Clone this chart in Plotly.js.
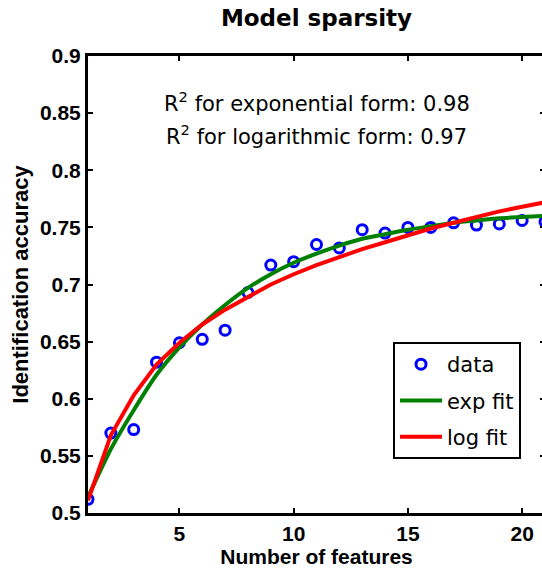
<!DOCTYPE html>
<html>
<head>
<meta charset="utf-8">
<script src="https://cdn.plot.ly/plotly-3.0.1.min.js"></script>
<style>
html,body{margin:0;padding:0;overflow:hidden;background:#fff;width:542px;height:568px;}
#chart{width:560px;height:568px;}
</style>
</head>
<body>
<div id="chart"></div>
<script>
const features = [1,2,3,4,5,6,7,8,9,10,11,12,13,14,15,16,17,18,19,20,21];
const accuracy = [0.512,0.570,0.573,0.632,0.649,0.652,0.660,0.693,0.717,0.720,0.735,0.732,0.748,0.745,0.750,0.750,0.754,0.752,0.753,0.756,0.755];
const expFit = [0.514,0.556,0.590,0.621,0.645,0.665,0.682,0.697,0.709,0.719,0.727,0.734,0.740,0.744,0.748,0.751,0.754,0.756,0.758,0.759,0.760];
const logFit = [0.511,0.568,0.603,0.630,0.649,0.665,0.678,0.689,0.700,0.709,0.717,0.724,0.731,0.737,0.743,0.749,0.754,0.759,0.764,0.768,0.772];
const xTicks = [5,10,15,20];
const yTicks = [0.5,0.55,0.6,0.65,0.7,0.75,0.8,0.85,0.9];
const yTickText = ["0.5","0.55","0.6","0.65","0.7","0.75","0.8","0.85","0.9"];
const seriesNames = ["data","exp fit","log fit"];
const annotationLines = ["R<sup>2</sup> for exponential form: 0.98","R<sup>2</sup> for logarithmic form: 0.97"];
const chartTitle = "Model sparsity";
const xLabel = "Number of features";
const yLabel = "Identification accuracy";

const tickFont = {family:"Liberation Sans, Arial, sans-serif", size:21, color:"#000", weight:"bold"};
const traces = [
  {x:features, y:accuracy, name:seriesNames[0], type:"scatter", mode:"markers", legendgroup:"a",
   marker:{symbol:"circle-open", size:10, color:"#0000ff", line:{width:3, color:"#0000ff"}}},
  {x:features, y:expFit, name:seriesNames[1], type:"scatter", mode:"lines", legendgroup:"b",
   line:{color:"#008000", width:4, shape:"spline", smoothing:0.6}},
  {x:features, y:logFit, name:seriesNames[2], type:"scatter", mode:"lines", legendgroup:"c",
   line:{color:"#ff0000", width:4}}
];
const layout = {
  width:560, height:568,
  margin:{l:88, r:15, t:56, b:55},
  paper_bgcolor:"#fff", plot_bgcolor:"#fff",
  title:{text:chartTitle, x:0.5, xref:"paper", y:1-18/568, yref:"container", yanchor:"middle",
         font:{family:"DejaVu Sans, sans-serif", size:23, weight:"bold", color:"#000"}},
  xaxis:{range:[1,21], tickvals:xTicks, ticktext:xTicks.map(String), ticks:"inside", ticklen:5, tickwidth:2,
         tickcolor:"#000", showline:true, linewidth:3, linecolor:"#000", mirror:"allticks",
         showgrid:false, zeroline:false, tickfont:tickFont,
         title:{text:xLabel, font:{family:"Liberation Sans, Arial, sans-serif", size:21, weight:"bold", color:"#000"}, standoff:0}},
  yaxis:{range:[0.5,0.9], tickvals:yTicks, ticktext:yTickText, ticks:"inside", ticklen:5, tickwidth:2,
         tickcolor:"#000", showline:true, linewidth:3, linecolor:"#000", mirror:"allticks",
         showgrid:false, zeroline:false, tickfont:tickFont,
         title:{text:yLabel, font:{family:"Liberation Sans, Arial, sans-serif", size:22, weight:"bold", color:"#000"}, standoff:6}},
  showlegend:true,
  legend:{x:(393-88)/457, y:(513-342)/457, xanchor:"left", yanchor:"top", bgcolor:"#fff",
          bordercolor:"#000", borderwidth:2, traceorder:"grouped", tracegroupgap:6, itemwidth:42,
          font:{family:"DejaVu Sans, sans-serif", size:21, color:"#000"}},
  annotations:[
    {text:annotationLines[0], xref:"paper", yref:"paper", x:0.5, y:(513-102)/457, xanchor:"center", yanchor:"middle", showarrow:false,
     font:{family:"DejaVu Sans, sans-serif", size:21, color:"#000"}},
    {text:annotationLines[1], xref:"paper", yref:"paper", x:0.5, y:(513-135)/457, xanchor:"center", yanchor:"middle", showarrow:false,
     font:{family:"DejaVu Sans, sans-serif", size:21, color:"#000"}}
  ]
};
Plotly.newPlot("chart", traces, layout, {displayModeBar:false, staticPlot:true});
</script>
</body>
</html>
